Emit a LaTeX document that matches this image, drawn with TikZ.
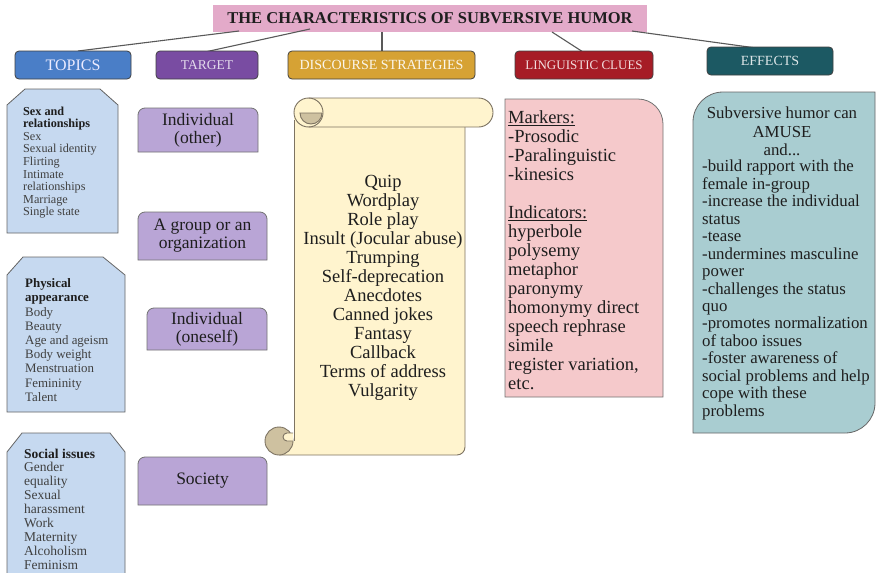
\documentclass[tikz,border=0pt]{standalone}
\usepackage{fontspec}
\setmainfont{Liberation Serif}
\usetikzlibrary{calc}
\definecolor{titlepink}{RGB}{227,170,201}
\definecolor{topblue}{RGB}{74,126,199}
\definecolor{tgtpurple}{RGB}{121,76,162}
\definecolor{discgold}{RGB}{214,162,52}
\definecolor{lingred}{RGB}{166,28,38}
\definecolor{effteal}{RGB}{28,89,99}
\definecolor{topicfill}{RGB}{198,217,240}
\definecolor{tgtfill}{RGB}{185,165,214}
\definecolor{scrollfill}{RGB}{255,244,206}
\definecolor{scrolltan}{RGB}{206,193,160}
\definecolor{scrollline}{RGB}{125,115,98}
\definecolor{lingfill}{RGB}{245,201,203}
\definecolor{efffill}{RGB}{169,205,209}
\definecolor{inkc}{RGB}{30,30,30}
\newcommand{\rtopbox}[4]{%
  \draw[tgtbox] (#1,#4) -- (#1,#2+7) arc[start angle=180,end angle=270,radius=7]
    -- (#3-7,#2) arc[start angle=270,end angle=360,radius=7] -- (#3,#4) -- cycle;}
\begin{document}
\begin{tikzpicture}[x=1pt,y=-1pt,
  hdr/.style={draw=black!75, line width=0.8pt, rounded corners=4pt,
    minimum height=28pt, inner sep=0pt, font=\fontsize{14}{16}\selectfont},
  conn/.style={draw=black!65, line width=1.1pt},
  topicbox/.style={draw=black!60, line width=0.8pt, fill=topicfill},
  topictext/.style={anchor=west, align=left, inner sep=0pt, text=inkc!85},
  tgtbox/.style={draw=black!55, line width=0.8pt, fill=tgtfill},
  tgttext/.style={align=center, inner sep=0pt, text=inkc, font=\fontsize{17.5}{18}\selectfont},
  scrollst/.style={draw=scrollline, line width=0.9pt, fill=scrollfill},
  tanst/.style={draw=scrollline, line width=0.9pt, fill=scrolltan},
  bigtext/.style={inner sep=0pt, text=inkc},
]
\useasboundingbox (0,0) rectangle (876,573);
\fill[white] (0,0) rectangle (876,573);

% title
\node[fill=titlepink, minimum width=434pt, minimum height=27pt, inner sep=0pt,
  text=inkc, font=\fontsize{16.5}{18}\selectfont\bfseries] (title) at (430,18.5)
  {THE CHARACTERISTICS OF SUBVERSIVE HUMOR};

% connector start points on the title
\coordinate (c1) at (239,31);
\coordinate (c2) at (310,29);
\coordinate (c3) at (382,32);
\coordinate (c4) at (552,32);
\coordinate (c5) at (632,31);

% headers positions
\path (73,65) coordinate (ptopics) (207,65) coordinate (ptarget)
  (381.5,65) coordinate (pdisc) (584,65) coordinate (pling) (770,61) coordinate (peff);

\draw[conn] (c1) -- ($(ptopics)+(5,-14)$);
\draw[conn] (c2) -- ($(ptarget)+(-2,-13)$);
\draw[conn] (c3) -- ($(pdisc)+(0.5,-14)$);
\draw[conn] (c4) -- ($(pling)+(-1,-13)$);
\draw[conn] (c5) -- ($(peff)+(8,-10)$);

\node[hdr, fill=topblue, text=white!92!blue, minimum width=116pt,
  font=\fontsize{16}{18}\selectfont] (topics) at (ptopics) {TOPICS};
\node[hdr, fill=tgtpurple, text=white!80!tgtpurple, minimum width=102pt,
  font=\fontsize{13.5}{16}\selectfont] (target) at (ptarget) {TARGET};
\node[hdr, fill=discgold, text=white!90!discgold, minimum width=187pt] (disc) at (pdisc) {DISCOURSE STRATEGIES};
\node[hdr, fill=lingred, text=white!85!lingred, minimum width=138pt,
  font=\fontsize{13}{16}\selectfont] (ling) at (pling) {LINGUISTIC CLUES};
\node[hdr, fill=effteal, text=white!85!effteal, minimum width=126pt] (eff) at (peff) {EFFECTS};

% topic boxes
\draw[topicbox] (7,233) -- (7,105) -- (25,89) -- (100,89) -- (118,105) -- (118,233) -- cycle;
\draw[topicbox] (7,412) -- (7,275) -- (23,257) -- (103,257) -- (125,275) -- (125,412) -- cycle;
\draw[topicbox] (7,578) -- (7,452) -- (22,433) -- (110,433) -- (125,452) -- (125,578);

\node[topictext, font=\fontsize{12.2}{12.6}\selectfont] (tp1) at (23,162.5)
  {\textcolor{inkc}{\textbf{Sex and}}\\\textcolor{inkc}{\textbf{relationships}}\\Sex\\Sexual identity\\Flirting\\Intimate\\relationships\\Marriage\\Single state};
\node[topictext, font=\fontsize{12.9}{14.2}\selectfont] (tp2) at (25,340)
  {\textcolor{inkc}{\textbf{Physical}}\\\textcolor{inkc}{\textbf{appearance}}\\Body\\Beauty\\Age and ageism\\Body weight\\Menstruation\\Femininity\\Talent};
\node[topictext, font=\fontsize{13.5}{13.9}\selectfont] (tp3) at (24,509)
  {\textcolor{inkc}{\textbf{Social issues}}\\Gender\\equality\\Sexual\\harassment\\Work\\Maternity\\Alcoholism\\Feminism};

% target boxes
\rtopbox{138}{108}{258}{152}
\rtopbox{138}{212}{267}{260}
\rtopbox{147}{308}{267}{350}
\rtopbox{138}{457}{267}{505}
\node[tgttext] (t1) at (198,130) {Individual\\(other)};
\node[tgttext] (t2) at (202.5,236) {A group or an\\organization};
\node[tgttext] (t3) at (207,329) {Individual\\(oneself)};
\node[tgttext] (t4) at (202.5,481) {Society};

% scroll
\fill[scrollfill] (279,455) -- (457,455) arc[start angle=90,end angle=0,radius=8]
  -- (465,113) -- (294,113) -- (294,441) -- cycle;
\draw[scrollline, line width=0.9pt] (294,120) -- (294,441);
\draw[scrollline, line width=0.9pt] (279,455) -- (457,455) arc[start angle=90,end angle=0,radius=8] -- (465,125);
\filldraw[tanst] (279,441) circle (14);
\filldraw[scrollst] (293,433) -- (287,433) arc[start angle=270,end angle=90,radius=4] -- (293,441);
\filldraw[scrollst, rounded corners=14.5pt] (294,98) rectangle (493,127);
\filldraw[tanst] (300,113) -- (322,113) arc[start angle=0,end angle=180,radius=11] -- cycle;
\draw[scrollline, line width=0.9pt] (308.5,98) arc[start angle=-90,end angle=90,radius=14.5];
\node[bigtext, align=center, font=\fontsize{18.5}{19}\selectfont] (ds) at (383,287.5)
  {Quip\\Wordplay\\Role play\\Insult (Jocular abuse)\\Trumping\\Self-deprecation\\Anecdotes\\Canned jokes\\Fantasy\\Callback\\Terms of address\\Vulgarity};

% linguistic clues box
\draw[draw=black!55, line width=0.8pt, fill=lingfill] (505,397) -- (505,99) -- (638,99)
  arc[start angle=270,end angle=360,radius=25] -- (663,397) -- cycle;
\node[bigtext, anchor=west, align=left, font=\fontsize{18.5}{19}\selectfont] (lc) at (508,250.5)
  {\underline{Markers:}\\-Prosodic\\-Paralinguistic\\-kinesics\\[19pt]\underline{Indicators:}\\hyperbole\\polysemy\\metaphor\\paronymy\\homonymy direct\\speech rephrase\\simile\\register variation,\\etc.};

% effects box
\draw[draw=black!60, line width=0.8pt, fill=efffill] (693,433) -- (693,122)
  arc[start angle=180,end angle=270,radius=30] -- (875,92) -- (875,403)
  arc[start angle=0,end angle=90,radius=30] -- cycle;
\node[bigtext, align=center, font=\fontsize{16.8}{18.5}\selectfont] (ef1) at (782,131.5)
  {Subversive humor can\\AMUSE\\and...};
\node[bigtext, anchor=west, align=left, font=\fontsize{16.8}{17.45}\selectfont] (ef2) at (702,290)
  {-build rapport with the\\female in-group\\-increase the individual\\status\\-tease\\-undermines masculine\\power\\-challenges the status\\quo\\-promotes normalization\\of taboo issues\\-foster awareness of\\social problems and help\\cope with these\\problems};
\end{tikzpicture}
\end{document}
